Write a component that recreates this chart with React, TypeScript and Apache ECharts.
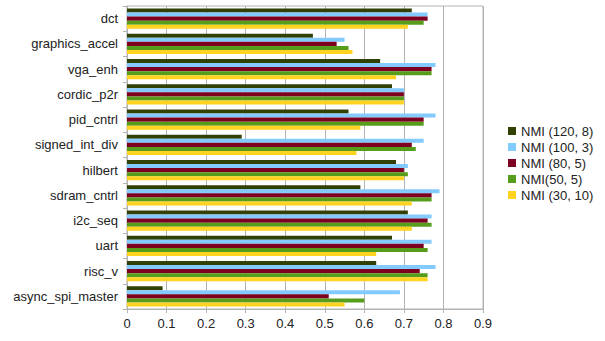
import React, { useEffect, useRef } from "react";
import * as echarts from "echarts";

const categories = [
  "dct",
  "graphics_accel",
  "vga_enh",
  "cordic_p2r",
  "pid_cntrl",
  "signed_int_div",
  "hilbert",
  "sdram_cntrl",
  "i2c_seq",
  "uart",
  "risc_v",
  "async_spi_master",
];

const seriesNames = ["NMI (120, 8)", "NMI (100, 3)", "NMI (80, 5)", "NMI(50, 5)", "NMI (30, 10)"];
const seriesColors = ["#314004", "#83caff", "#7e0021", "#579d1c", "#ffd320"];

const nmi120_8 = [0.72, 0.47, 0.64, 0.67, 0.56, 0.29, 0.68, 0.59, 0.71, 0.67, 0.63, 0.09];
const nmi100_3 = [0.76, 0.55, 0.78, 0.7, 0.78, 0.75, 0.71, 0.79, 0.77, 0.77, 0.78, 0.69];
const nmi80_5 = [0.76, 0.53, 0.77, 0.7, 0.75, 0.72, 0.7, 0.77, 0.76, 0.75, 0.74, 0.51];
const nmi50_5 = [0.75, 0.56, 0.77, 0.7, 0.75, 0.73, 0.71, 0.77, 0.77, 0.76, 0.76, 0.6];
const nmi30_10 = [0.71, 0.57, 0.68, 0.7, 0.59, 0.58, 0.7, 0.72, 0.72, 0.63, 0.76, 0.55];

const seriesData = [nmi120_8, nmi100_3, nmi80_5, nmi50_5, nmi30_10];

export default function App() {
  const ref = useRef<HTMLDivElement>(null);
  useEffect(() => {
    if (!ref.current) return;
    const chart = echarts.init(ref.current, undefined, { renderer: "svg" });
    chart.setOption({
      animation: false,
      backgroundColor: "#ffffff",
      textStyle: { fontFamily: "Liberation Sans" },
      grid: {
        left: 127,
        right: 122,
        top: 6,
        bottom: 32,
        show: true,
        borderColor: "#b3b3b3",
        borderWidth: 1,
        containLabel: false,
      },
      legend: {
        orient: "vertical",
        left: 508,
        top: 123,
        padding: 0,
        itemWidth: 8,
        itemHeight: 8,
        itemGap: 0,
        icon: "rect",
        textStyle: { fontSize: 13, lineHeight: 16, color: "#222222", fontFamily: "Liberation Sans" },
        data: seriesNames,
      },
      xAxis: {
        type: "value",
        min: 0,
        max: 0.9,
        interval: 0.1,
        axisLine: { show: true, lineStyle: { color: "#b3b3b3" } },
        axisTick: { show: true, length: 4, lineStyle: { color: "#b3b3b3" } },
        splitLine: { show: true, lineStyle: { color: "#b3b3b3" } },
        axisLabel: {
          color: "#222222",
          fontSize: 13,
          margin: 8,
          formatter: (v: number) => String(Math.round(v * 10) / 10),
        },
      },
      yAxis: {
        type: "category",
        inverse: true,
        data: categories,
        axisLine: { show: true, lineStyle: { color: "#b3b3b3" } },
        axisTick: { show: true, length: 4, lineStyle: { color: "#b3b3b3" } },
        axisLabel: { color: "#222222", fontSize: 13, margin: 9 },
      },
      series: seriesData.map((d, i) => ({
        name: seriesNames[i],
        type: "bar",
        data: d,
        barGap: "0%",
        barCategoryGap: "19%",
        itemStyle: { color: seriesColors[i] },
      })),
    });
    return () => chart.dispose();
  }, []);
  return <div ref={ref} style={{ width: 605, height: 341, position: "absolute", left: 0, top: 0 }} />;
}
